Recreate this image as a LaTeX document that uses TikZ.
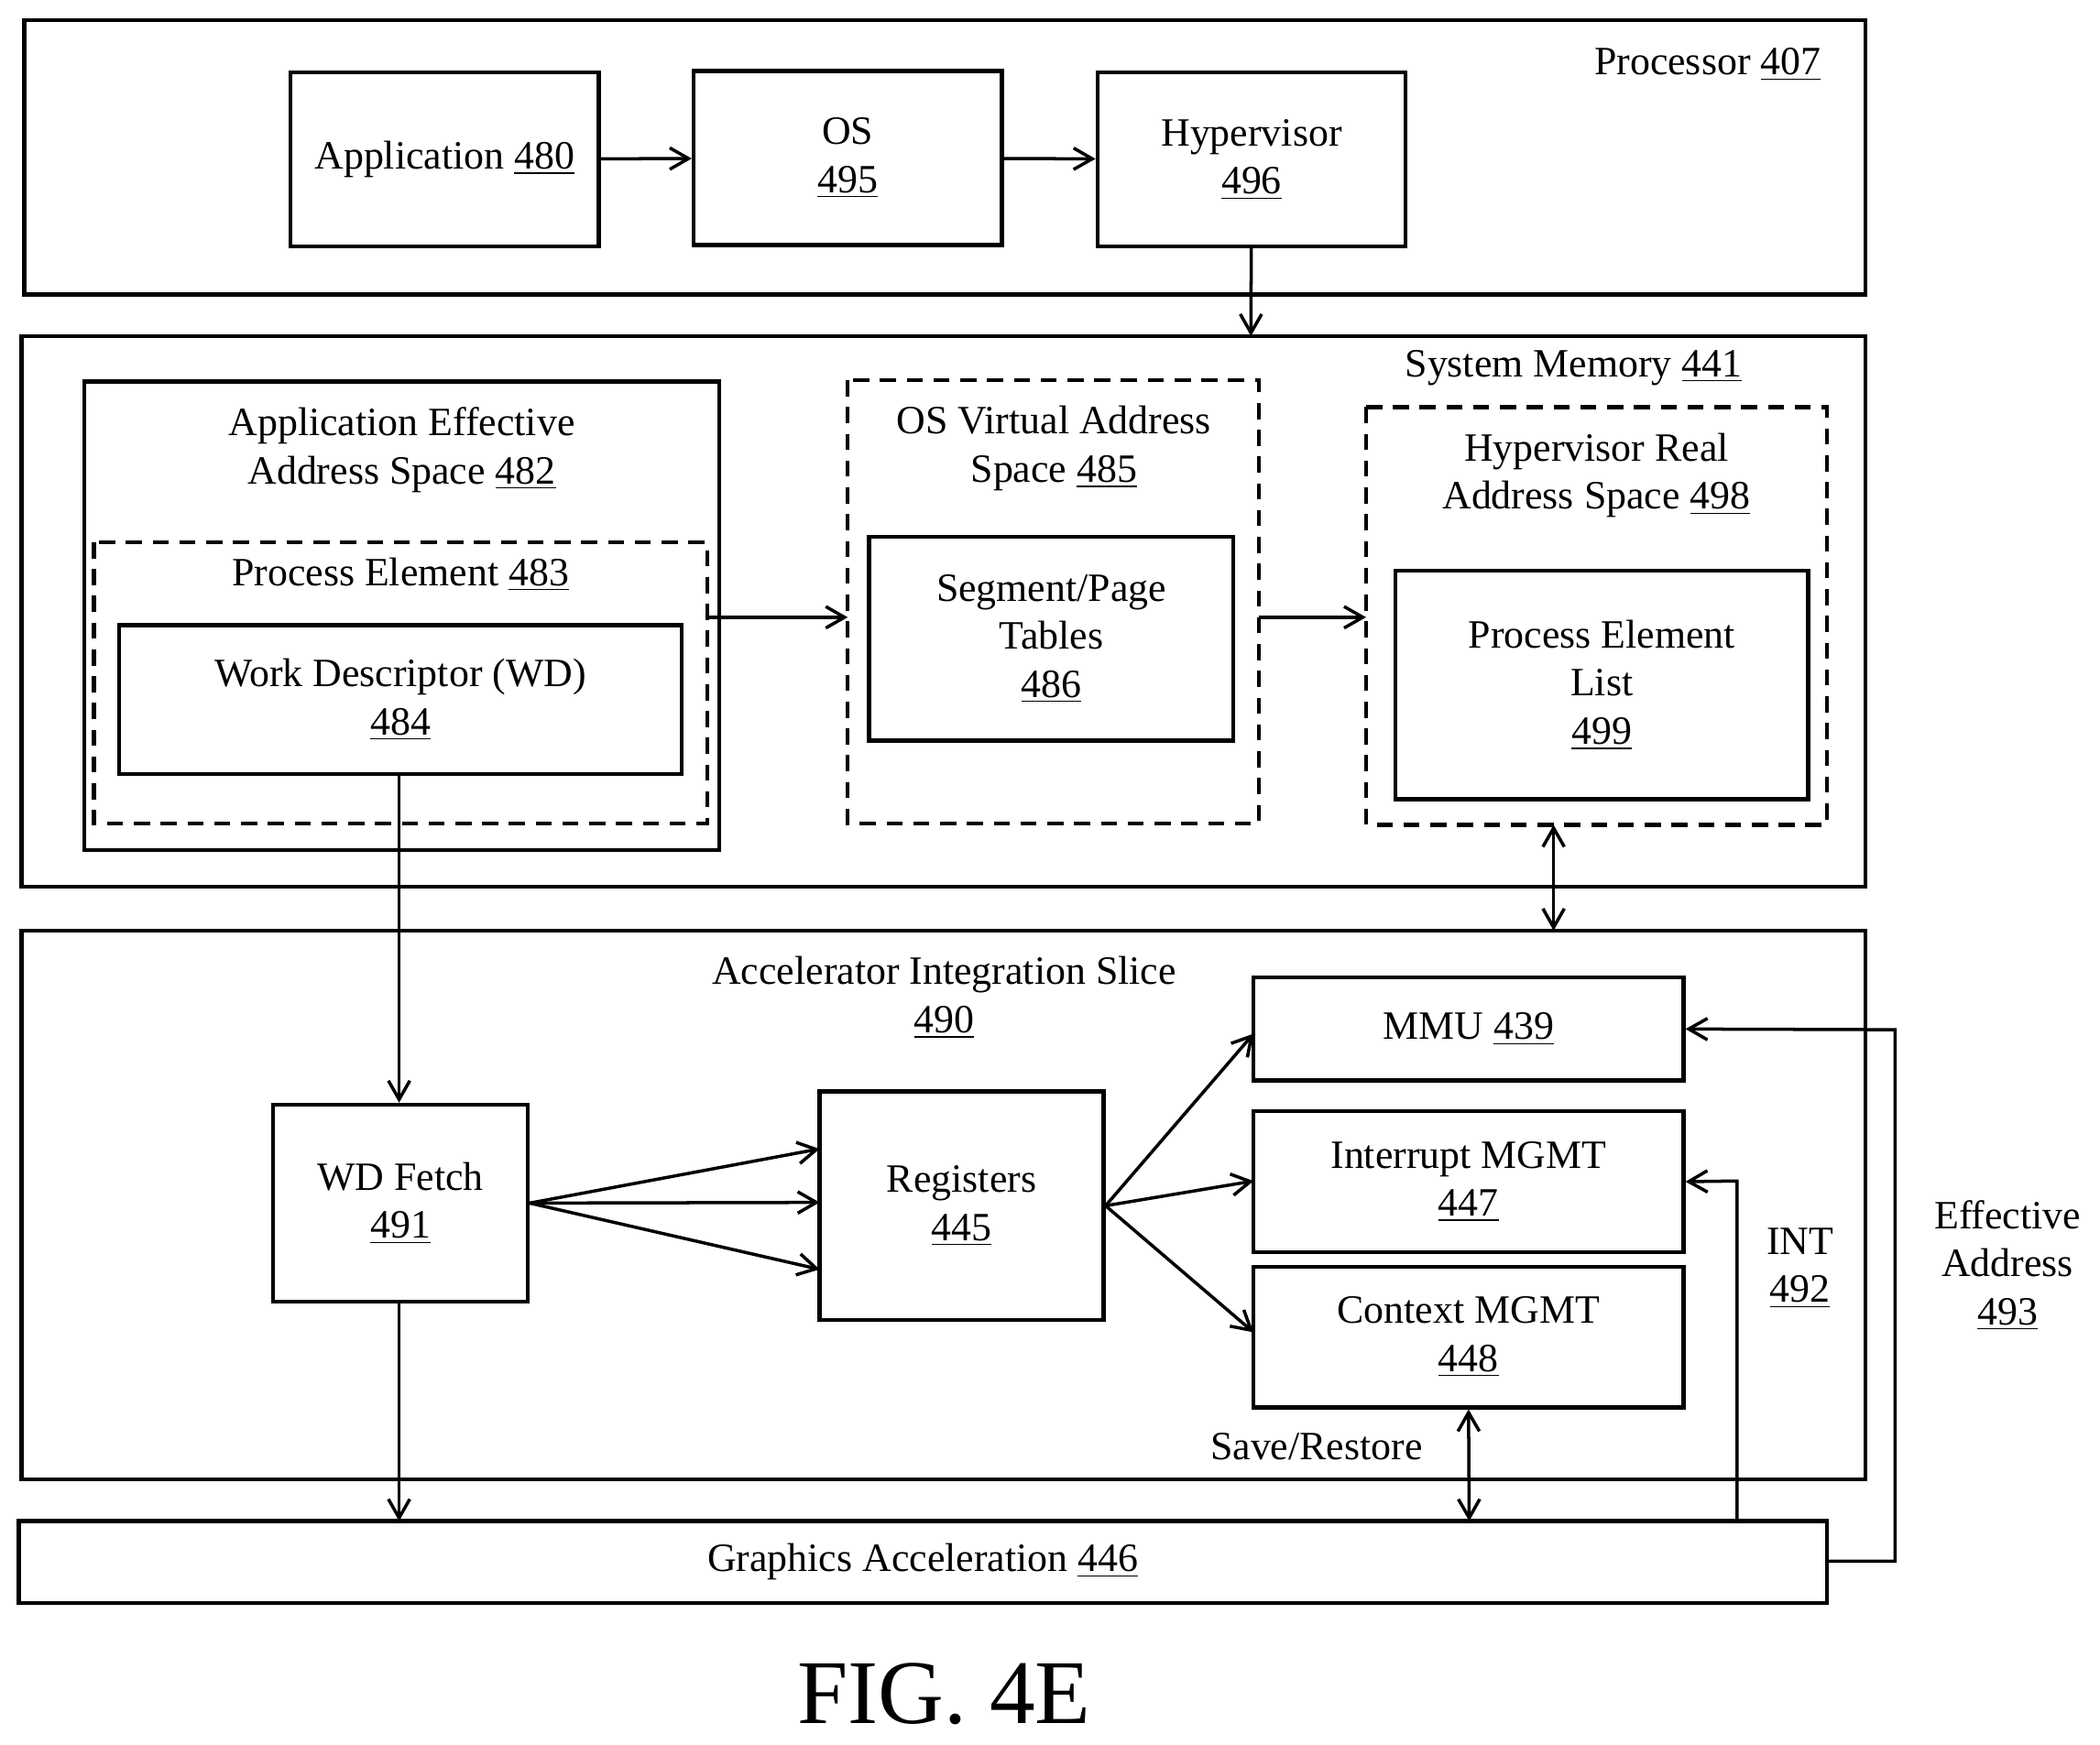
\documentclass[tikz,border=0pt]{standalone}
\usepackage{fontspec}
\setmainfont{Liberation Serif}
\usetikzlibrary{arrows.meta}
\newcommand{\un}[1]{\underline{#1}}
\begin{document}
\begin{tikzpicture}[x=0.5pt,y=-0.5pt,
 bx/.style={draw,line width=1.5pt},
 dbx/.style={draw,line width=1.5pt,dash pattern=on 6pt off 4pt},
 t/.style={font=\fontsize{15}{18}\selectfont,align=center,inner sep=0},
 ar/.style={line width=1.2pt,-{Straight Barb[length=7pt,width=8pt]}},
 dar/.style={line width=1.2pt,{Straight Barb[length=7pt,width=8pt]}-{Straight Barb[length=7pt,width=8pt]}}]
\useasboundingbox (0,0) rectangle (1568,1303);
% Processor
\draw[bx] (18,15) rectangle (1393,220);
\node[t] (pl) at (1275,48) {Processor \un{407}};
\node[bx,minimum width=115pt,minimum height=65pt,t] (app) at (332,119) {Application \un{480}};
\node[bx,minimum width=115pt,minimum height=65pt,t] (os) at (633,118) {OS\\\un{495}};
\node[bx,minimum width=115pt,minimum height=65pt,t] (hyp) at (934.5,119) {Hypervisor\\\un{496}};
\draw[ar] (app) -- (os);
\draw[ar] (os) -- (hyp);
\coordinate (smt) at (934,251);
\draw[ar] (hyp) -- (smt);
% System memory
\draw[bx] (16,251) rectangle (1393,662);
\node[t] at (1175,275) {System Memory \un{441}};
\draw[bx] (63,285) rectangle (537,635);
\node[t] at (300,336) {Application Effective\\Address Space \un{482}};
\draw[dbx] (70,405) rectangle (528,615);
\coordinate (pe) at (528,461);
\node[t] at (299,429) {Process Element \un{483}};
\node[bx,minimum width=210pt,minimum height=55.5pt,t] (wd) at (299,522.5) {Work Descriptor (WD)\\\un{484}};
\draw[dbx] (633,284) rectangle (940,615);
\coordinate (osv) at (633,461);
\coordinate (osvr) at (940,461);
\node[t] at (787,335) {OS Virtual Address\\Space \un{485}};
\node[bx,minimum width=136pt,minimum height=76pt,t] (seg) at (785,477) {Segment/Page\\Tables\\\un{486}};
\draw[dbx] (1020,304) rectangle (1364,616);
\coordinate (hr) at (1020,461);
\coordinate (hrb) at (1160,616);
\node[t] at (1192,355) {Hypervisor Real\\Address Space \un{498}};
\node[bx,minimum width=154pt,minimum height=85.5pt,t] (pel) at (1196,511.5) {Process Element\\List\\\un{499}};
\draw[ar] (pe) -- (osv);
\draw[ar] (osvr) -- (hr);
\coordinate (aist) at (1160,695);
\draw[dar] (hrb) -- (aist);
% AIS
\draw[bx] (16,695) rectangle (1393,1105);
\node[t] at (705,745) {Accelerator Integration Slice\\\un{490}};
\node[bx,minimum width=160.5pt,minimum height=38.5pt,t] (mmu) at (1096.5,768.5) {MMU \un{439}};
\node[bx,minimum width=160.5pt,minimum height=52.5pt,t] (int) at (1096.5,882.5) {Interrupt MGMT\\\un{447}};
\node[bx,minimum width=160.5pt,minimum height=52.5pt,t] (ctx) at (1096.5,998.5) {Context MGMT\\\un{448}};
\node[bx,minimum width=95pt,minimum height=73.5pt,t] (wdf) at (299,898.5) {WD Fetch\\\un{491}};
\node[bx,minimum width=106pt,minimum height=85.5pt,t] (reg) at (718,900.5) {Registers\\\un{445}};
\draw[ar] (wd.south -| 298,0) -- (wdf.north -| 298,0);
\draw[ar] (wdf.east) -- (612,858);
\draw[ar] (wdf.east) -- (612,898);
\draw[ar] (wdf.east) -- (612,948);
\draw[ar] (reg.east) -- (936,772);
\draw[ar] (reg.east) -- (936,882);
\draw[ar] (reg.east) -- (936,995);
% Graphics
\node[bx,minimum width=675pt,minimum height=30.5pt,t] (ga) at (689,1166.5) {Graphics Acceleration \un{446}};
\draw[ar] (wdf.south -| 298,0) -- (298,1136);
\draw[dar] (ctx.south) -- (1097,1136);
\node[t] at (983,1080) {Save/Restore};
\draw[ar] (1297,1136) -- (1297,882) -- (int.east);
\node[t] at (1344,947) {INT\\\un{492}};
\draw[ar] (1364,1166) -- (1415,1166) -- (1415,769) -- (mmu.east);
\node[t] at (1499,945) {Effective\\Address\\\un{493}};
\node[font=\fontsize{34}{38}\selectfont] at (705,1265) {FIG. 4E};
\end{tikzpicture}
\end{document}
